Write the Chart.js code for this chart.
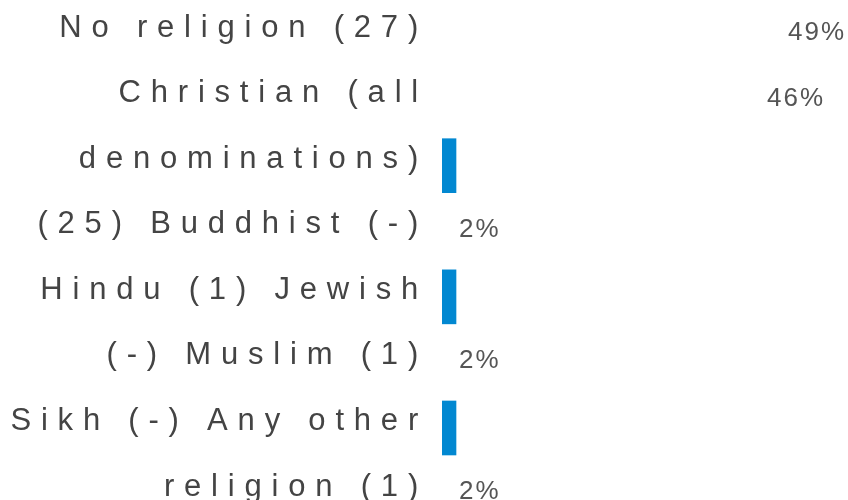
<!DOCTYPE html>
<html>
<head>
<meta charset="utf-8">
<script src="https://cdn.jsdelivr.net/npm/chart.js@4.4.1/dist/chart.umd.min.js"></script>
<style>
    html, body { margin: 0; padding: 0; background: #fff; }
    #wrap { width: 848px; height: 500px; position: relative; }
</style>
</head>
<body>
<div id="wrap"><canvas id="religionChart"></canvas></div>
<script>
// Religion (number of respondents in brackets, "-" = none)
const categories = ['No religion (27)', 'Christian (all denominations) (25)', 'Buddhist (-)', 'Hindu (1)',
    'Jewish (-)', 'Muslim (1)', 'Sikh (-)', 'Any other religion (1)'];
const percentages = [49, 46, null, 2, null, 2, null, 2];

// the labels run on down the left side, wrapped like this
const tickLines = ['No religion (27)', 'Christian (all', 'denominations)', '(25) Buddhist (-)',
    'Hindu (1) Jewish', '(-) Muslim (1)', 'Sikh (-) Any other', 'religion (1)'];

const BLUE = '#0288d1';
const FONT = '"Liberation Sans", Arial, sans-serif';

// wide letter spacing on the axis text
const spacedText = {
    id: 'spacedText',
    beforeDraw(chart) { chart.ctx.letterSpacing = '9.8px'; },
    afterDraw(chart) { chart.ctx.letterSpacing = '0px'; }
};

// percentage after each bar
const pctLabels = {
    id: 'pctLabels',
    afterDatasetsDraw(chart) {
        const { ctx, scales: { x, y } } = chart;
        ctx.save();
        ctx.letterSpacing = '2px';
        ctx.font = `26px ${FONT}`;
        ctx.fillStyle = '#555';
        ctx.textAlign = 'left';
        ctx.textBaseline = 'middle';
        percentages.forEach((v, i) => {
            if (v == null) return;
            ctx.fillText(v + '%', x.getPixelForValue(v) + 3, y.getPixelForValue(i) + 5);
        });
        ctx.restore();
    }
};

const ctx = document.getElementById('religionChart').getContext('2d');
new Chart(ctx, {
    type: 'bar',
    data: {
        datasets: [{
            label: 'Religion',
            data: categories.map((name, i) => ({ name, y: i, x: percentages[i] })),
            xAxisID: 'x',
            yAxisID: 'yb',
            barThickness: 54,
            // the two long bars don't show up in the original
            backgroundColor: c => c.dataIndex < 2 ? 'rgba(0,0,0,0)' : BLUE
        }]
    },
    options: {
        indexAxis: 'y',
        responsive: true,
        maintainAspectRatio: false,
        animation: false,
        layout: { padding: { top: 28, bottom: 13, left: 0, right: 0 } },
        plugins: { legend: { display: false }, tooltip: { enabled: false } },
        scales: {
            x: { type: 'linear', min: 0, max: 58, bounds: 'data', display: false },
            y: {
                type: 'category',
                labels: tickLines,
                offset: false,
                position: 'left',
                grid: { display: false, drawTicks: false },
                border: { display: false },
                ticks: { padding: 14, color: '#444', autoSkip: false, font: { family: FONT, size: 31 } },
                afterFit(scale) {
                    scale.width = 442;
                    scale.paddingTop = 0;
                    scale.paddingBottom = 0;
                }
            },
            // bars sit a row above their percentage
            yb: {
                type: 'linear', position: 'left', reverse: true, offset: false,
                min: 0.9, max: 7.9, bounds: 'data', display: false
            }
        }
    },
    plugins: [spacedText, pctLabels]
});
</script>
</body>
</html>
